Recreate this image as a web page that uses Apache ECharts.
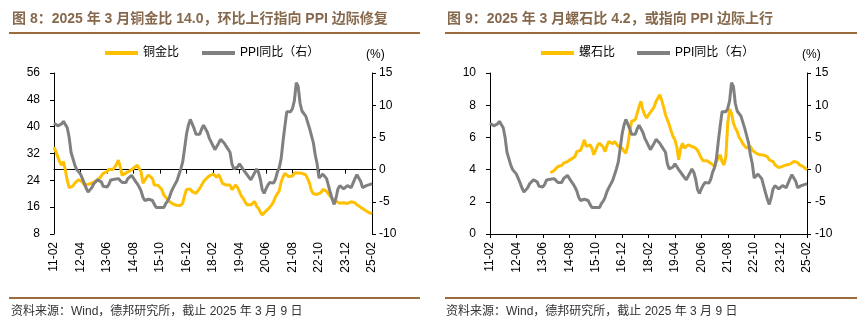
<!DOCTYPE html>
<html><head><meta charset="utf-8">
<script src="https://cdn.jsdelivr.net/npm/echarts@6/dist/echarts.min.js"></script>
<style>html,body{margin:0;padding:0;background:#fff}#c{width:860px;height:327px}</style>
</head><body><div id="c"></div>
<script>
// Monthly categories 2011-02 .. 2025-02 (label format yy-mm)
const months = [];
for (let y = 2011; y <= 2025; y++) {
  for (let m = 1; m <= 12; m++) {
    if (y === 2011 && m < 2) continue;
    if (y === 2025 && m > 2) break;
    months.push(String(y).slice(2) + '-' + String(m).padStart(2, '0'));
  }
}

// 铜金比 (left chart, left axis)
const copperGold = [
  33.9, 32.5, 31, 29.5, 28.5, 29.6, 27, 24, 21.8, 21.5,
  22.3, 23.2, 23.6, 24.2, 24.6, 23.5, 22.6, 22.5, 22.8, 22.6,
  23.2, 23.6, 23.8, 24.2, 24.6, 25.3, 26.1, 26.2, 26.6, 27.3,
  27.4, 27.2, 27.8, 28.8, 30.0, 28.0, 25.5, 25.2, 26.2, 26.6,
  26.8, 27.2, 27.6, 27.9, 28.5, 28.9, 26.5, 23.1, 23.5, 25,
  25.6, 26.1, 24.5, 22.6, 22.3, 22.5, 22.1, 21.2, 19.6, 19.0,
  18.6, 17.7, 17.3, 16.9, 16.7, 16.5, 16.4, 16.6, 17.2, 19.5,
  21.3, 21.6, 21.4, 20.6, 20.3, 20.1, 20.6, 21.6, 22.6, 23.6,
  24.3, 24.8, 25.3, 25.2, 25.9, 25.4, 24.9, 25.8, 24.5, 23.1,
  22.8, 22.6, 22.8, 22.6, 21.2, 21.6, 22.6, 21.8, 20.6, 19.3,
  18.6, 17.5, 16.7, 16.9, 16.7, 17.2, 17.7, 16.3, 15.7, 14.5,
  13.7, 14.3, 14.5, 15.4, 16.0, 16.7, 17.6, 19.1, 20.0, 20.9,
  23.5, 25.0, 26.1, 25.6, 25.1, 25.0, 25.3, 26.2, 26.6, 26.2,
  26.0, 26.1, 25.9, 25.6, 24.5, 23.1, 21.0, 20.0, 19.6, 19.8,
  19.6, 20.3, 21.3, 21.2, 20.8, 19.9, 19.2, 18.6, 18.2, 17.7,
  17.4, 17.2, 17.4, 17.3, 17.2, 17.1, 17.2, 17.6, 18.1, 17.3,
  16.7, 16.3, 16.0, 15.5, 15.2, 14.8, 14.5, 14.2, 14.0
];

// 螺石比 (right chart, left axis) — starts 2013-10
const rebarOre = [
  null, null, null, null, null, null, null, null, null, null,
  null, null, null, null, null, null, null, null, null, null,
  null, null, null, null, null, null, null, null, null, null,
  null, null,
  3.8, 3.88, 3.95, 4.05, 4.19, 4.1, 4.25, 4.4, 4.45, 4.5,
  4.6, 4.65, 4.72, 4.8, 5.12, 5.23, 5.2, 5.5, 5.85, 5.44,
  5.5, 5.54, 5.33, 4.92, 5.2, 5.5, 5.64, 5.75, 5.4, 5.12,
  5.5, 5.75, 5.64, 5.6, 5.75, 5.6, 5.44, 5.4, 5.33, 5.15,
  5.02, 5.5, 6.3, 6.99, 7.05, 7.1, 7.2, 7.9, 8.24, 7.72,
  7.4, 7.2, 7.4, 7.51, 7.72, 7.9, 8.24, 8.45, 8.65, 8.3,
  7.9, 7.41, 7.1, 6.78, 6.4, 6.06, 5.85, 5.4, 4.61, 5.3,
  5.64, 5.33, 5.45, 5.54, 5.5, 5.44, 5.4, 5.33, 5.2, 5.12,
  4.71, 4.55, 4.5, 4.55, 4.6, 4.4, 4.3, 4.19, 4.5, 4.71,
  4.92, 4.5, 4.29, 4.81, 6.89, 7.76, 7.5, 6.9, 6.58, 6.37,
  6.0, 5.85, 5.6, 5.54, 5.33, 5.4, 5.44, 5.2, 5.12, 5.02,
  5.0, 4.92, 4.85, 4.9, 5.02, 4.8, 4.61, 4.55, 4.5, 4.3,
  4.19, 4.12, 4.09, 4.2, 4.29, 4.29, 4.32, 4.34, 4.40, 4.5,
  4.61, 4.45, 4.29, 4.25, 4.19, 4.1, 3.98
];

// PPI同比 (%) (right axis, both charts)
const ppiYoY = [
  7.2, 7.3, 6.8, 6.8, 7.1, 7.5, 7.3, 6.5, 5.0, 2.7, 1.7,
  0.7, 0.0, -0.3, -0.7, -1.4, -2.1, -2.9, -3.5, -3.6, -2.8, -2.2, -1.9,
  -1.6, -1.6, -1.9, -2.6, -2.9, -2.7, -2.3, -1.6, -1.3, -1.5, -1.4, -1.4,
  -1.6, -2.0, -2.3, -2.0, -1.4, -1.1, -0.9, -1.2, -1.8, -2.2, -2.7, -3.3,
  -4.3, -4.8, -4.6, -4.6, -4.6, -4.8, -5.4, -5.9, -5.9, -5.9, -5.9, -5.9,
  -5.3, -4.9, -4.3, -3.4, -2.8, -2.6, -1.7, -0.8, 0.1, 1.2, 3.3, 5.5,
  6.9, 7.8, 7.6, 6.4, 5.5, 5.5, 5.5, 6.3, 6.9, 6.9, 5.8, 4.9,
  4.3, 3.7, 3.1, 3.4, 4.1, 4.7, 4.6, 4.1, 3.6, 3.3, 2.7, 0.9,
  0.1, 0.1, 0.4, 0.9, 0.6, 0.0, -0.3, -0.8, -1.2, -1.6, -1.4, -0.5,
  0.1, -0.4, -1.5, -3.1, -3.7, -3.0, -2.4, -2.0, -2.1, -2.1, -1.5, -0.4,
  0.3, 1.7, 4.4, 6.8, 9.0, 8.8, 9.0, 9.5, 10.7, 13.5, 12.9, 10.3,
  9.1, 8.8, 8.3, 8.0, 6.4, 6.1, 4.2, 2.3, 0.9, -1.3, -1.3, -0.7,
  -0.8, -1.4, -2.5, -3.6, -4.6, -5.4, -4.4, -3.0, -2.5, -2.6, -3.0, -2.7,
  -2.5, -2.7, -2.8, -2.5, -1.4, -0.8, -0.8, -1.8, -2.8, -2.9, -2.5, -2.3,
  -2.3, -2.2
];

const titles = [
  '图 8：2025 年 3 月铜金比 14.0，环比上行指向 PPI 边际修复',
  '图 9：2025 年 3 月螺石比 4.2，或指向 PPI 边际上行'
];
const sourceText = '资料来源：Wind，德邦研究所，截止 2025 年 3 月 9 日';

const FONT = '"Liberation Sans", Arial, "Noto Sans CJK SC", sans-serif';
const YELLOW = '#FFC000';
const GREY = '#808080';
const BROWN = '#9c6b3e';
const TITLE_C = '#86694d';

function xAxis(g) {
  return {
    type: 'category', gridIndex: g, data: months, boundaryGap: false,
    axisLine: { lineStyle: { color: '#000', width: 1 } },
    axisTick: { interval: 13, length: 4, lineStyle: { color: '#000' } },
    axisLabel: { interval: 13, rotate: 90, margin: 8, color: '#000', fontSize: 12, fontFamily: FONT },
    splitLine: { show: false }
  };
}
function yAxis(g, pos, min, max, step, margin) {
  return {
    type: 'value', gridIndex: g, position: pos, min: min, max: max, interval: step,
    axisLine: { show: true, onZero: false, lineStyle: { color: '#000', width: 1 } },
    axisTick: { show: true, length: 4, lineStyle: { color: '#000' } },
    axisLabel: { margin: margin, color: '#000', fontSize: 12, fontFamily: FONT },
    splitLine: { show: false }
  };
}
function lineSeries(name, data, xi, yi, color) {
  return {
    name: name, type: 'line', xAxisIndex: xi, yAxisIndex: yi, data: data,
    showSymbol: false, symbol: 'none', smooth: false,
    lineStyle: { color: color, width: 3 }, itemStyle: { color: color },
    emphasis: { disabled: true }, animation: false
  };
}
function txt(x, y, text, font, fill) {
  return { type: 'text', left: x, top: y, silent: true, style: { text: text, font: font, fill: fill } };
}
function bar(x, y, w, h) {
  return { type: 'rect', silent: true, shape: { x: x, y: y, width: w, height: h }, style: { fill: BROWN } };
}

const chart = echarts.init(document.getElementById('c'));
chart.setOption({
  animation: false,
  backgroundColor: '#fff',
  grid: [
    { left: 54, top: 73, width: 318, height: 161 },
    { left: 490, top: 73, width: 317, height: 161 }
  ],
  xAxis: [xAxis(0), xAxis(1)],
  yAxis: [
    yAxis(0, 'left', 8, 56, 8, 14),
    yAxis(0, 'right', -10, 15, 5, 7),
    yAxis(1, 'left', 0, 10, 2, 14),
    yAxis(1, 'right', -10, 15, 5, 8)
  ],
  legend: [
    { left: 105, top: 47, padding: 0, itemWidth: 33, itemHeight: 4, itemGap: 23, icon: 'rect',
      data: ['铜金比', 'PPI同比（右）'],
      textStyle: { fontSize: 12, color: '#000', fontFamily: FONT } },
    { left: 541, top: 47, padding: 0, itemWidth: 33, itemHeight: 4, itemGap: 22, icon: 'rect',
      data: ['螺石比', 'PPI同比（右） '],
      textStyle: { fontSize: 12, color: '#000', fontFamily: FONT } }
  ],
  series: [
    lineSeries('铜金比', copperGold, 0, 0, YELLOW),
    lineSeries('PPI同比（右）', ppiYoY, 0, 1, GREY),
    lineSeries('螺石比', rebarOre, 1, 2, YELLOW),
    lineSeries('PPI同比（右） ', ppiYoY, 1, 3, GREY)
  ],
  graphic: [
    txt(12, 12, titles[0], 'bold 14px ' + FONT, TITLE_C),
    txt(447, 12, titles[1], 'bold 14px ' + FONT, TITLE_C),
    bar(9, 32, 411, 2),
    bar(445, 32, 412, 2),
    txt(366, 49, '(%)', '12px ' + FONT, '#000'),
    txt(802, 49, '(%)', '12px ' + FONT, '#000'),
    bar(9, 297, 411, 2),
    bar(445, 297, 412, 2),
    txt(11, 306, sourceText, '12px ' + FONT, '#333'),
    txt(446, 306, sourceText, '12px ' + FONT, '#333')
  ]
});
</script>
</body></html>
